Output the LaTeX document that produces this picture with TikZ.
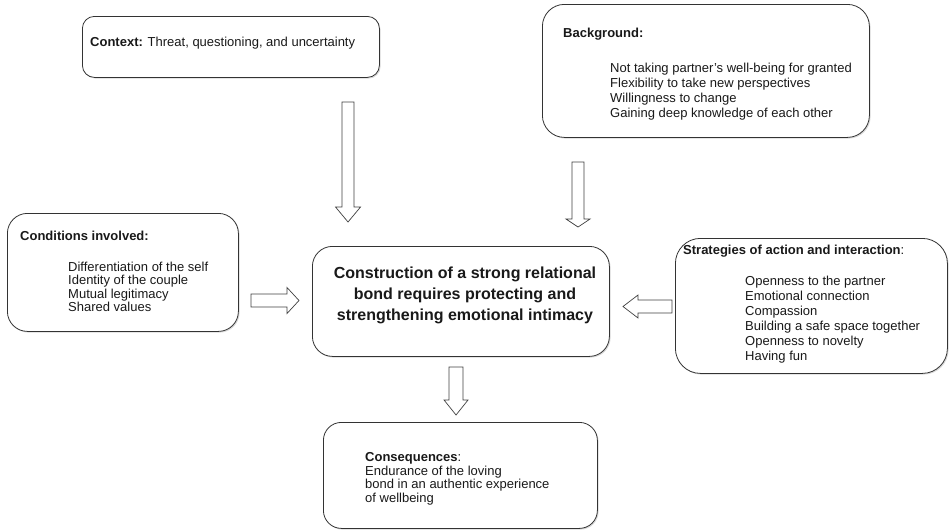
\documentclass[tikz,border=0pt]{standalone}
\usepackage{fontspec}
\setmainfont{Liberation Sans}
\usetikzlibrary{shadows}

\tikzset{
    box/.style={draw=black!80, line width=0.8pt, fill=white, rounded corners=#1,
        drop shadow={shadow xshift=1.2pt, shadow yshift=-1.2pt, opacity=0.3},
        anchor=north west, inner sep=0pt},
    box/.default=15pt,
    txt/.style={font=\fontsize{13}{15}\selectfont, text=black!90, inner sep=0pt, anchor=base west},
    core/.style={font=\bfseries\fontsize{16}{21}\selectfont, text=black!90, inner sep=0pt, anchor=base},
    arrowline/.style={draw=black!75, line width=0.7pt, fill=white, line join=miter},
    % length/shaft half width/head half width/head length
    pics/blockarrow/.style args={#1/#2/#3/#4}{
        code={\draw[arrowline] (0,-#2) -- ({#1-#4},-#2) -- ({#1-#4},-#3) -- (#1,0)
            -- ({#1-#4},#3) -- ({#1-#4},#2) -- (0,#2) -- cycle;}
    }
}

\begin{document}
\begin{tikzpicture}[x=1pt, y=-1pt]
    \useasboundingbox (0,0) rectangle (949,530);

    % Draw the boxes
    \node[box=12pt, minimum width=297pt, minimum height=61pt] (context) at (82,16) {};
    \node[box=22pt, minimum width=327pt, minimum height=133pt] (background) at (542,4) {};
    \node[box=20pt, minimum width=231pt, minimum height=118pt] (conditions) at (7,213) {};
    \node[box=20pt, minimum width=297pt, minimum height=110pt] (bond) at (312,246) {};
    \node[box=25pt, minimum width=272pt, minimum height=135pt] (strategies) at (675,238) {};
    \node[box=18pt, minimum width=274pt, minimum height=106pt] (consequences) at (323,422) {};

    % Context
    \node[txt] (contexttxt) at (90,46.5) {\textbf{Context:} Threat, questioning, and uncertainty};

    % Background
    \node[txt] (backgroundtitle) at (563,37.5) {\textbf{Background:}};
    \foreach \item [count=\i from 0] in {Not taking partner’s well-being for granted,
        Flexibility to take new perspectives, Willingness to change,
        Gaining deep knowledge of each other}
        \node[txt] (background-\i) at (610,72.5+15*\i) {\item};

    % Conditions
    \node[txt] (conditionstitle) at (20,240.5) {\textbf{Conditions involved:}};
    \foreach \item [count=\i from 0] in {Differentiation of the self,
        Identity of the couple, Mutual legitimacy, Shared values}
        \node[txt] (conditions-\i) at (68,271+13.5*\i) {\item};

    % Core category
    \node[core] (bond-0) at (465,278.5) {Construction of a strong relational};
    \node[core] (bond-1) at (465,299.5) {bond requires protecting and};
    \node[core] (bond-2) at (465,320.5) {strengthening emotional intimacy};

    % Strategies
    \node[txt] (strategiestitle) at (683,254) {\textbf{Strategies of action and interaction}:};
    \foreach \item [count=\i from 0] in {Openness to the partner, Emotional connection,
        Compassion, Building a safe space together, Openness to novelty, Having fun}
        \node[txt] (strategies-\i) at (745,285.5+15*\i) {\item};

    % Consequences
    \node[txt] (consequencestitle) at (365,461.5) {\textbf{Consequences}:};
    \foreach \item [count=\i from 0] in {Endurance of the loving,
        bond in an authentic experience, of wellbeing}
        \node[txt] (consequences-\i) at (365,475+13.5*\i) {\item};

    % Draw block arrows
    \pic[rotate=-90] at (348,102) {blockarrow=120/6/12.5/15};
    \pic[rotate=-90] at (578,162) {blockarrow=65/6/12/8};
    \pic at (251,300.5) {blockarrow=48/6.5/13/12};
    \pic[rotate=180] at (672,306.5) {blockarrow=49/6.5/11.5/15};
    \pic[rotate=-90] at (456,367) {blockarrow=48/7/12/15};
\end{tikzpicture}
\end{document}
